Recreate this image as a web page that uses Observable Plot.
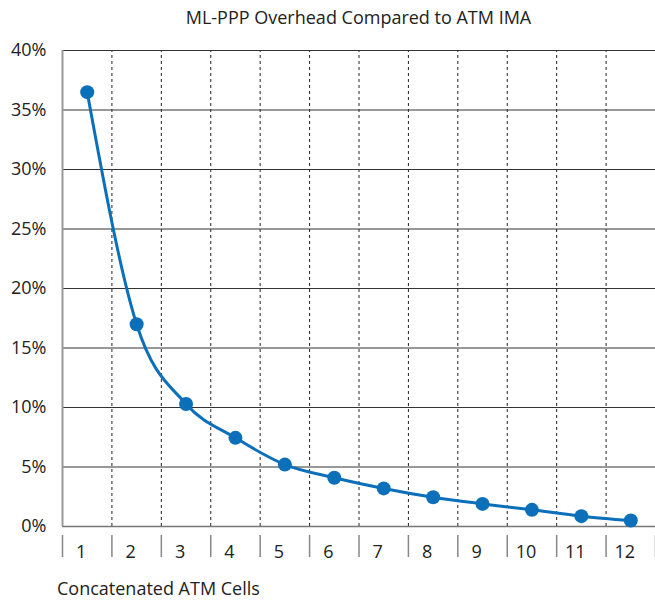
<!DOCTYPE html>
<html>
<head>
<meta charset="utf-8">
<script src="https://cdn.jsdelivr.net/npm/d3@7"></script>
<script src="https://cdn.jsdelivr.net/npm/@observablehq/plot@0.6"></script>
<style>
  html, body { margin: 0; padding: 0; background: #fff; }
  body { position: relative; width: 655px; height: 600px; overflow: hidden; font-family: "Open Sans", sans-serif; color: #222; }
  #title { height: 36px; margin-left: 62px; width: 593px; text-align: center; font-size: 18px; line-height: 34px; }
  #caption { position: absolute; left: 57px; top: 577px; font-size: 18px; line-height: 22px; }
  svg { display: block; }
</style>
</head>
<body>
<div id="title">ML-PPP Overhead Compared to ATM IMA</div>
<div id="chart"></div>
<div id="caption">Concatenated ATM Cells</div>
<script>
const cells = [1, 2, 3, 4, 5, 6, 7, 8, 9, 10, 11, 12];
const overhead = [0.365, 0.170, 0.103, 0.0745, 0.052, 0.041, 0.032, 0.0246, 0.019, 0.014, 0.0087, 0.005];
const yTicks = [0, 0.05, 0.10, 0.15, 0.20, 0.25, 0.30, 0.35, 0.40];
const xBoundaries = [0.5, 1.5, 2.5, 3.5, 4.5, 5.5, 6.5, 7.5, 8.5, 9.5, 10.5, 11.5, 12.5];

const data = cells.map((c, i) => ({cells: c, overhead: overhead[i]}));
const blue = "#0b6fba";

const chart = Plot.plot({
  width: 655,
  height: 534,
  marginLeft: 62,
  marginRight: 0,
  marginTop: 14,
  marginBottom: 44,
  style: {fontFamily: "Open Sans, sans-serif", color: "#222", background: "#fff"},
  x: {type: "linear", domain: [0.5, 12.5], axis: null},
  y: {domain: [0, 0.4], axis: null},
  marks: [
    Plot.ruleX(xBoundaries.slice(1), {y1: 0, y2: 0.4, stroke: "#222", strokeDasharray: "3,3", strokeWidth: 1}),
    Plot.ruleY(yTicks.slice(1), {stroke: "#333", strokeWidth: 1}),
    Plot.ruleY([0], {stroke: "#777", strokeWidth: 1.5}),
    Plot.ruleX([0.5], {y1: 0, y2: 0.4, stroke: "#999", strokeWidth: 2}),
    Plot.axisY(yTicks, {tickSize: 0, tickPadding: 16, tickFormat: d3.format(".0%"), fontSize: 18, label: null, fill: "#222"}),
    Plot.axisX(xBoundaries, {tickSize: 22, dy: 9, stroke: "#888", strokeWidth: 1.5, text: null, label: null}),
    Plot.axisX(cells, {tickSize: 0, tickPadding: 19, dx: -6, fontSize: 18, label: null, fill: "#222"}),
    Plot.line(data, {x: "cells", y: "overhead", stroke: blue, strokeWidth: 3, curve: "monotone-x"}),
    Plot.dot(data, {x: "cells", y: "overhead", r: 7, fill: blue})
  ]
});
document.getElementById("chart").appendChild(chart);
</script>
</body>
</html>
